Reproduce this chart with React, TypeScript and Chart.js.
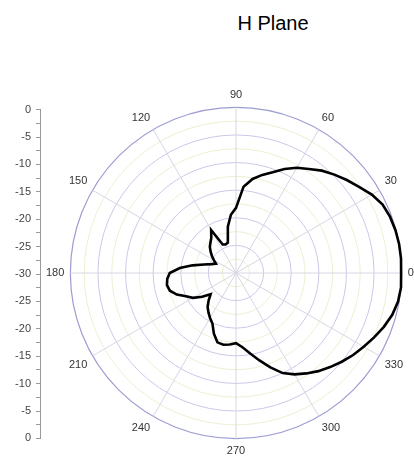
import React, { useEffect, useRef } from "react";
import { Chart, registerables } from "chart.js";

Chart.register(...registerables);

// Angle (degrees, counter-clockwise from 0 at the right)
const ANGLES = [
  0, 5, 10, 15, 20, 25, 30, 35, 40, 45, 50, 55,
  60, 65, 70, 75, 80, 85, 90, 95, 100, 105, 110, 115,
  120, 125, 130, 135, 140, 145, 150, 155, 160, 165, 170, 175,
  180, 185, 190, 195, 200, 205, 210, 215, 220, 225, 230, 235,
  240, 245, 250, 255, 260, 265, 270, 275, 280, 285, 290, 295,
  300, 305, 310, 315, 320, 325, 330, 335, 340, 345, 350, 355,
];

// Normalised gain (dB) at each angle
const GAIN_DB = [
  -0.1, 0.0, 0.0, -0.1, -0.3, -0.7, -1.6, -2.8, -3.8, -4.8, -5.8, -7.0,
  -8.0, -9.2, -10.6, -11.6, -12.7, -14.3, -18.2, -19.4, -21.5, -24.3, -24.5, -24.3,
  -21.0, -22.2, -22.8, -23.3, -24.0, -24.7, -25.4, -26.0, -25.3, -24.0, -22.0, -19.8,
  -18.0, -17.5, -17.3, -17.6, -18.6, -20.0, -21.0, -22.5, -24.0, -23.0, -22.0, -21.3,
  -20.6, -19.9, -18.3, -17.0, -16.8, -17.0, -17.3, -16.5, -15.2, -13.6, -11.8, -10.0,
  -8.8, -7.8, -6.8, -5.9, -5.0, -4.1, -3.3, -2.4, -1.5, -0.7, -0.2, 0.0,
];

const ANGLE_LABEL_STEP = 30;
const R_MIN = -30;
const R_MAX = 0;
const R_MAJOR = 5;
const R_MINOR = 2.5;

const TITLE = "H Plane";
const FONT = "'Liberation Sans', Arial, sans-serif";

export default function App() {
  const polarRef = useRef<HTMLCanvasElement | null>(null);
  const axisRef = useRef<HTMLCanvasElement | null>(null);

  useEffect(() => {
    // Radar labels go clockwise; put 0 at the right and run counter-clockwise
    const n = ANGLES.length;
    const order = ANGLES.map((_, i) => (n - i) % n);
    const labels = order.map((k) => String(ANGLES[k]));
    const values = order.map((k) => GAIN_DB[k]);

    const polar = new Chart(polarRef.current as HTMLCanvasElement, {
      type: "radar",
      data: {
        labels,
        datasets: [
          {
            data: values,
            borderColor: "#000000",
            borderWidth: 2.6,
            pointRadius: 0,
            fill: false,
            tension: 0,
          },
        ],
      },
      options: {
        responsive: false,
        animation: false,
        plugins: { legend: { display: false }, tooltip: { enabled: false } },
        layout: { padding: 0 },
        scales: {
          r: {
            min: R_MIN,
            max: R_MAX,
            startAngle: 90,
            ticks: { display: false, stepSize: R_MINOR },
            grid: {
              circular: true,
              color: (ctx: any) => {
                const v = ctx.tick ? ctx.tick.value : 0;
                if (v === R_MAX) return "#9c9cd2";
                if (Math.abs(v % R_MAJOR) < 1e-6) return "#c9c9ea";
                return "#eaf0d2";
              },
              lineWidth: (ctx: any) => {
                const v = ctx.tick ? ctx.tick.value : 0;
                return v === R_MAX ? 1.2 : 1;
              },
            },
            angleLines: {
              display: true,
              color: (ctx: any) =>
                Number(labels[ctx.index]) % ANGLE_LABEL_STEP === 0 ? "#d6d6e2" : "rgba(0,0,0,0)",
              lineWidth: (ctx: any) =>
                Number(labels[ctx.index]) % ANGLE_LABEL_STEP === 0 ? 1 : 0,
            },
            pointLabels: {
              display: true,
              padding: 6,
              color: "#333333",
              font: { size: 11, family: FONT },
              callback: (label: string) =>
                Number(label) % ANGLE_LABEL_STEP === 0 ? label : "",
            },
          },
        },
      },
    });

    const axis = new Chart(axisRef.current as HTMLCanvasElement, {
      type: "line",
      data: { labels: [""], datasets: [{ data: [] }] },
      options: {
        responsive: false,
        animation: false,
        plugins: { legend: { display: false }, tooltip: { enabled: false } },
        layout: { padding: { top: 7, bottom: 5, left: 0, right: 0 } },
        scales: {
          x: { display: false },
          y: {
            min: R_MIN,
            max: -R_MIN,
            afterFit: (scale: any) => {
              scale.width = 40;
            },
            border: { display: true, color: "#9a9a9a", width: 1 },
            grid: {
              drawOnChartArea: false,
              drawTicks: true,
              tickLength: 4,
              tickColor: "#9a9a9a",
            },
            ticks: {
              stepSize: R_MINOR,
              autoSkip: false,
              padding: 5,
              color: "#444444",
              font: { size: 11, family: FONT },
              callback: (v: any) =>
                Math.abs(Number(v) % R_MAJOR) < 1e-6
                  ? String(Math.abs(Number(v)) + R_MIN)
                  : "",
            },
          },
        },
      },
    });

    return () => {
      polar.destroy();
      axis.destroy();
    };
  }, []);

  return (
    <div style={{ position: "absolute", left: 0, top: 0, width: 414, height: 460, overflow: "hidden", background: "#ffffff" }}>
      <div
        style={{
          position: "absolute",
          left: 173,
          width: 200,
          top: 12,
          textAlign: "center",
          fontFamily: FONT,
          fontSize: 20,
          color: "#000000",
        }}
      >
        {TITLE}
      </div>
      <canvas
        ref={axisRef}
        width={41}
        height={352}
        style={{ position: "absolute", left: 0, top: 98, width: 41, height: 352 }}
      />
      <canvas
        ref={polarRef}
        width={380}
        height={382}
        style={{ position: "absolute", left: 40, top: 82, width: 380, height: 382 }}
      />
    </div>
  );
}
